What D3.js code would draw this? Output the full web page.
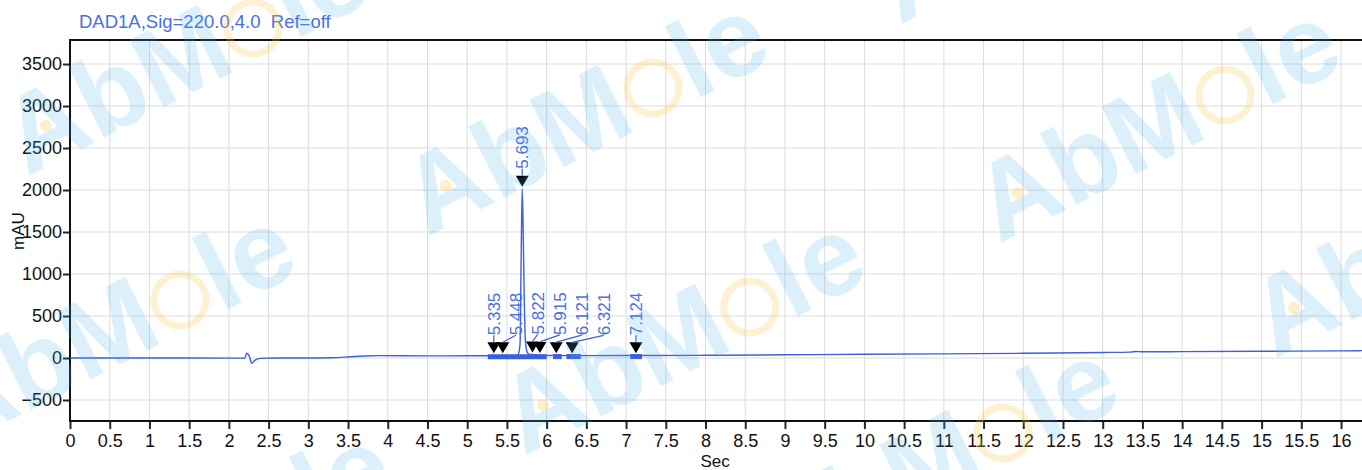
<!DOCTYPE html>
<html>
<head>
<meta charset="utf-8">
<script src="https://cdn.jsdelivr.net/npm/d3@7"></script>
<style>
    body { margin: 0; background: white; }
    svg { display: block; font-family: "Liberation Sans", Arial, sans-serif; }
</style>
</head>
<body>
<div id="chart"></div>
<script>

// trace (seconds, mAU)
const traceSec = [0, 1.0, 2.0, 2.2, 2.224, 2.26, 2.287, 2.33, 2.4, 2.6, 3.0, 3.3, 3.5, 3.7, 3.9, 4.5, 5.0, 5.3,
    5.335, 5.38, 5.448, 5.5, 5.6, 5.64, 5.665, 5.68, 5.693, 5.705, 5.72, 5.735, 5.755, 5.78, 5.822, 5.86,
    5.915, 5.96, 6.05, 6.121, 6.2, 6.321, 6.4, 7.0, 7.124, 7.2, 8, 9, 10, 11, 12, 13, 13.35, 13.42, 13.5,
    14, 15, 16, 16.3];
const traceMAU = [0, 0, -1, 0, 56, 15, -63, -25, -5, 0, 0, 3, 12, 24, 28, 25, 26, 27,
    33, 28, 32, 28, 29, 40, 160, 1250, 2015, 1500, 600, 180, 70, 45, 42, 35,
    37, 30, 29, 34, 28, 32, 28, 29, 34, 29, 32, 38, 44, 49, 56, 66, 70, 78, 74,
    76, 80, 85, 88];

// detected peaks
const peakRT = [5.335, 5.448, 5.693, 5.822, 5.915, 6.121, 6.321, 7.124];
const peakMAU = [33, 32, 2015, 42, 37, 34, 32, 34];

// integration baselines
const intStart = [5.26, 6.08, 6.25, 7.05];
const intEnd = [6.00, 6.19, 6.43, 7.20];
const intMAU = [27, 29, 29, 29];

const xTicks = d3.range(0, 16.01, 0.5);
const yTicks = [-500, 0, 500, 1000, 1500, 2000, 2500, 3000, 3500];

// watermark ring centres (decoration)
const marks = [[253, 28], [653, 88], [1225, 95], [180, 300], [750, 307], [1501, 210], [1003, 433], [277, 519], [1126, -124]];


class Chromatogram {
    constructor(parentElement) {
        this.parentElement = parentElement;
    }

    initVis() {
        let vis = this;
        vis.margin = {top: 40, right: 0, bottom: 49, left: 70};
        vis.width = 1362;
        vis.height = 470;

        vis.svg = d3.select("#" + vis.parentElement).append("svg")
            .attr("width", vis.width)
            .attr("height", vis.height)

        vis.x = d3.scaleLinear().domain([0, 16.264]).range([vis.margin.left, vis.width]);
        vis.y = d3.scaleLinear().domain([-750, 3786]).range([vis.height - vis.margin.bottom, vis.margin.top]);

        vis.svg.append("clipPath").attr("id", "plotclip")
            .append("rect")
            .attr("x", vis.margin.left)
            .attr("y", vis.margin.top)
            .attr("width", vis.width - vis.margin.left)
            .attr("height", vis.height - vis.margin.top - vis.margin.bottom)

        // grid
        vis.svg.append("g").selectAll("line").data(xTicks.slice(1)).enter().append("line")
            .attr("x1", d => vis.x(d)).attr("x2", d => vis.x(d))
            .attr("y1", vis.margin.top).attr("y2", vis.height - vis.margin.bottom)
            .attr("stroke", "#dcdcdc").attr("stroke-width", 1)
        vis.svg.append("g").selectAll("line").data(yTicks).enter().append("line")
            .attr("x1", vis.margin.left).attr("x2", vis.width)
            .attr("y1", d => vis.y(d)).attr("y2", d => vis.y(d))
            .attr("stroke", "#dcdcdc").attr("stroke-width", 1)

        // axes
        let xAxis = d3.axisBottom(vis.x).tickValues(xTicks).tickFormat(d => String(d)).tickSize(8).tickPadding(5);
        let yAxis = d3.axisLeft(vis.y).tickValues(yTicks).tickFormat(d3.format("d")).tickSize(7).tickPadding(1);

        vis.gx = vis.svg.append("g")
            .attr("transform", `translate(0,${vis.height - vis.margin.bottom})`)
            .call(xAxis)
        vis.gy = vis.svg.append("g")
            .attr("transform", `translate(${vis.margin.left},0)`)
            .call(yAxis)
        for (const g of [vis.gx, vis.gy]) {
            g.select(".domain").remove();
            g.selectAll(".tick line").attr("stroke", "#1b2836").attr("stroke-width", 2);
            g.selectAll(".tick text").attr("fill", "#111").attr("font-size", 18)
                .attr("font-family", "'Liberation Sans', Arial, sans-serif");
        }

        // frame
        vis.svg.append("line")
            .attr("x1", vis.margin.left).attr("x2", vis.width)
            .attr("y1", vis.margin.top).attr("y2", vis.margin.top)
            .attr("stroke", "#111").attr("stroke-width", 2)
        vis.svg.append("line")
            .attr("x1", vis.margin.left).attr("x2", vis.width)
            .attr("y1", vis.height - vis.margin.bottom).attr("y2", vis.height - vis.margin.bottom)
            .attr("stroke", "#111").attr("stroke-width", 2)
        vis.svg.append("line")
            .attr("x1", vis.margin.left).attr("x2", vis.margin.left)
            .attr("y1", vis.margin.top - 1).attr("y2", vis.height - vis.margin.bottom + 1)
            .attr("stroke", "#111").attr("stroke-width", 2)

        // labels
        vis.svg.append("text")
            .text("DAD1A,Sig=220.0,4.0  Ref=off")
            .attr("x", 79).attr("y", 28)
            .attr("font-size", 18.5)
            .attr("fill", "#4a6fe0")
            .style("white-space", "pre")
        vis.svg.append("text")
            .text("mAU")
            .attr("transform", "translate(24,231) rotate(-90)")
            .attr("text-anchor", "middle")
            .attr("font-size", 17)
            .attr("fill", "#111")
        vis.svg.append("text")
            .text("Sec")
            .attr("x", vis.x(8.12)).attr("y", 467)
            .attr("text-anchor", "middle")
            .attr("font-size", 17)
            .attr("fill", "#111")

        vis.plot = vis.svg.append("g").attr("clip-path", "url(#plotclip)")

        this.wrangleData()
    }

    wrangleData() {
        let vis = this;
        vis.trace = traceSec.map((t, i) => ({t: t, v: traceMAU[i]}));
        vis.peaks = peakRT.map((t, i) => ({t: t, v: peakMAU[i]}));

        // push labels right so they keep 22px apart (only labels on the same level)
        let last = null;
        vis.peaks.forEach(function(p) {
            p.lx = vis.x(p.t);
            if (last && Math.abs(vis.y(p.v) - vis.y(last.v)) < 40) {
                p.lx = Math.max(p.lx, last.lx + 22);
            }
            if (!last || Math.abs(vis.y(p.v) - vis.y(last.v)) < 40 || p.v < 500) last = p.v < 500 ? p : last;
        })
        vis.updateVis()
    }

    updateVis() {
        let vis = this;
        let blue = "#3c60da";

        // integration baselines
        vis.plot.selectAll(".intbase").data(intStart).enter().append("line")
            .attr("class", "intbase")
            .attr("x1", d => vis.x(d))
            .attr("x2", (d, i) => vis.x(intEnd[i]))
            .attr("y1", (d, i) => vis.y(intMAU[i]) + 1)
            .attr("y2", (d, i) => vis.y(intMAU[i]) + 1)
            .attr("stroke", blue).attr("stroke-width", 5)

        let line = d3.line().x(d => vis.x(d.t)).y(d => vis.y(d.v)).curve(d3.curveMonotoneX);
        vis.plot.append("path")
            .datum(vis.trace)
            .attr("d", line)
            .attr("fill", "none")
            .attr("stroke", blue)
            .attr("stroke-width", 1.4)

        let tri = vis.svg.selectAll(".peak").data(vis.peaks).enter().append("g").attr("class", "peak");

        tri.append("path")
            .attr("d", function(d) {
                let cx = vis.x(d.t), tip = vis.y(d.v) - 2;
                return `M${cx - 6.5},${tip - 11}L${cx + 6.5},${tip - 11}L${cx},${tip}Z`;
            })
            .attr("fill", "#000")

        tri.append("line")
            .attr("x1", d => vis.x(d.t))
            .attr("y1", d => vis.y(d.v) - 13)
            .attr("x2", d => d.lx)
            .attr("y2", d => vis.y(d.v) - 20)
            .attr("stroke", blue).attr("stroke-width", 1.2)

        tri.append("text")
            .text(d => d3.format(".3f")(d.t))
            .attr("transform", d => `translate(${d.lx + 6},${vis.y(d.v) - 20}) rotate(-90)`)
            .attr("font-size", 17)
            .attr("fill", "#4a6fe0")

        // AbMole watermark
        let wm = vis.svg.append("g").selectAll(".wm").data(marks).enter().append("g")
            .attr("class", "wm")
            .attr("transform", d => `translate(${d[0]},${d[1]}) rotate(-27)`)
        wm.append("text")
            .text("AbM")
            .attr("x", -31).attr("y", 30)
            .attr("text-anchor", "end")
            .attr("font-size", 110).attr("font-weight", "bold")
            .attr("fill", "#4db3e6").attr("fill-opacity", 0.2)
        wm.append("text")
            .text("le")
            .attr("x", 31).attr("y", 30)
            .attr("font-size", 110).attr("font-weight", "bold")
            .attr("fill", "#4db3e6").attr("fill-opacity", 0.2)
        wm.append("circle")
            .attr("r", 26)
            .attr("fill", "none")
            .attr("stroke", "#f7c948").attr("stroke-opacity", 0.25).attr("stroke-width", 7)
        wm.append("circle")
            .attr("cx", -229).attr("cy", -7)
            .attr("r", 6)
            .attr("fill", "#f7c948").attr("fill-opacity", 0.3)
    }
}

let chart = new Chromatogram("chart");
chart.initVis();
</script>
</body>
</html>
